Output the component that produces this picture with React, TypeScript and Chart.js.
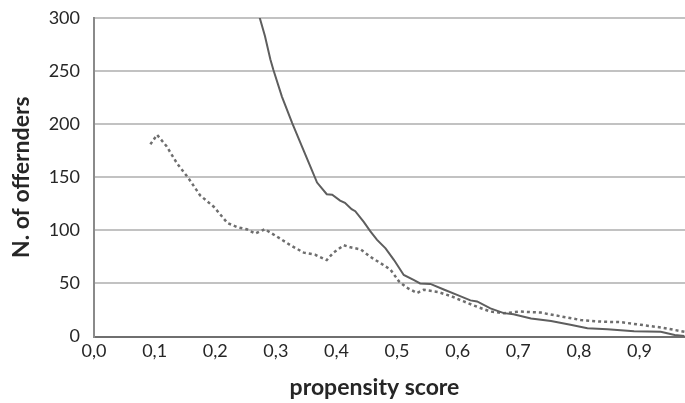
import React, { useEffect, useRef } from "react";
import { Chart, registerables } from "chart.js";

Chart.register(...registerables);

// Tick labels
const xTickValues = [0, 0.1, 0.2, 0.3, 0.4, 0.5, 0.6, 0.7, 0.8, 0.9];
const yTickValues = [0, 50, 100, 150, 200, 250, 300];

// Solid series (propensity score, N. of offenders)
const solidX = [
  0.272, 0.282, 0.291, 0.296, 0.31, 0.327, 0.343, 0.357, 0.368, 0.384, 0.393,
  0.406, 0.414, 0.425, 0.431, 0.445, 0.456, 0.467, 0.481, 0.495, 0.511, 0.528,
  0.538, 0.555, 0.578, 0.6, 0.621, 0.632, 0.654, 0.676, 0.692, 0.721, 0.754,
  0.786, 0.814, 0.847, 0.891, 0.935, 0.958, 0.974,
];
const solidY = [
  303, 283, 261, 251, 226, 201, 179, 160, 145, 134, 133.5, 128, 126, 120, 118,
  108, 99, 91, 83, 72, 58, 53, 50, 49.5, 44, 39, 34, 33, 26.5, 22, 21, 17, 14.5,
  11, 7.7, 6.8, 5, 4.5, 1.5, 0.5,
];

// Dashed series
const dashedX = [
  0.093, 0.104, 0.12, 0.137, 0.156, 0.175, 0.198, 0.22, 0.236, 0.252, 0.266,
  0.282, 0.302, 0.324, 0.346, 0.365, 0.384, 0.395, 0.412, 0.423, 0.44, 0.456,
  0.473, 0.489, 0.503, 0.516, 0.533, 0.544, 0.567, 0.589, 0.61, 0.632, 0.654,
  0.676, 0.704, 0.737, 0.77, 0.803, 0.837, 0.869, 0.902, 0.935, 0.974,
];
const dashedY = [
  181, 190, 179, 163, 149, 133, 122, 107, 103, 101, 97, 101, 94, 86, 79, 77, 72,
  79, 86, 84, 82, 75, 69, 63, 52, 46, 41, 44, 42, 38, 33, 28, 23.5, 22, 23.5,
  22.5, 19, 15.5, 14, 13.5, 11, 8.5, 4.5,
];

const xTitle = "propensity score";
const yTitle = "N. of offernders";

const FONT = "Lato, 'Open Sans', sans-serif";
const TEXT = "#262626";

export default function App() {
  const ref = useRef<HTMLCanvasElement | null>(null);

  useEffect(() => {
    if (!ref.current) return;
    const xTitlePlugin = {
      id: "xTitlePlugin",
      afterDraw(chart: any) {
        const { ctx } = chart;
        ctx.save();
        ctx.font = `bold 23px ${FONT}`;
        ctx.fillStyle = TEXT;
        ctx.textAlign = "center";
        ctx.textBaseline = "alphabetic";
        ctx.fillText(xTitle, 374.5, 395);
        ctx.restore();
      },
    };
    const chart = new Chart(ref.current, {
      type: "line",
      data: {
        datasets: [
          {
            label: "solid",
            data: solidX.map((x, i) => ({ x, y: solidY[i] })),
            borderColor: "#5e5e5e",
            borderWidth: 2,
            pointRadius: 0,
            tension: 0,
            fill: false,
          },
          {
            label: "dashed",
            data: dashedX.map((x, i) => ({ x, y: dashedY[i] })),
            borderColor: "#6e6e6e",
            borderWidth: 2.5,
            borderDash: [3, 3],
            pointRadius: 0,
            tension: 0,
            fill: false,
          },
        ],
      },
      options: {
        responsive: false,
        animation: false,
        layout: { padding: { top: 18, right: 0, left: 0, bottom: 0 } },
        plugins: {
          legend: { display: false },
          tooltip: { enabled: false },
        },
        scales: {
          x: {
            type: "linear",
            min: 0,
            max: 0.975,
            afterFit: (s: any) => {
              s.height = 403 - 336.5;
              s.paddingLeft = 0;
              s.paddingRight = 0;
            },
            afterBuildTicks: (s: any) => {
              s.ticks = xTickValues.map((v) => ({ value: v }));
            },
            ticks: {
              includeBounds: false,
              padding: 4,
              color: TEXT,
              font: { family: FONT, size: 18 },
              maxRotation: 0,
              autoSkip: false,
              callback: (v: any) => Number(v).toFixed(1).replace(".", ","),
            },
            grid: { display: false, drawTicks: false },
            border: { display: true, color: "#6f6f6f", width: 2 },
          },
          y: {
            min: 0,
            max: 300,
            afterFit: (s: any) => {
              s.width = 94;
              s.paddingTop = 0;
              s.paddingBottom = 0;
            },
            afterBuildTicks: (s: any) => {
              s.ticks = yTickValues.map((v) => ({ value: v }));
            },
            ticks: {
              padding: 14,
              color: TEXT,
              font: { family: FONT, size: 18 },
            },
            grid: {
              color: "#c2c2c2",
              lineWidth: 2,
              drawTicks: false,
            },
            border: { display: true, color: "#8a8a8a", width: 2 },
            title: {
              display: true,
              text: yTitle,
              color: TEXT,
              font: { family: FONT, size: 23, weight: "bold" },
              padding: { top: 8, bottom: 0 },
            },
          },
        },
      },
      plugins: [xTitlePlugin],
    });
    return () => chart.destroy();
  }, []);

  return (
    <div style={{ position: "absolute", left: 0, top: 0, width: 685, height: 403, background: "#fff" }}>
      <canvas ref={ref} width={685} height={403} />
    </div>
  );
}
